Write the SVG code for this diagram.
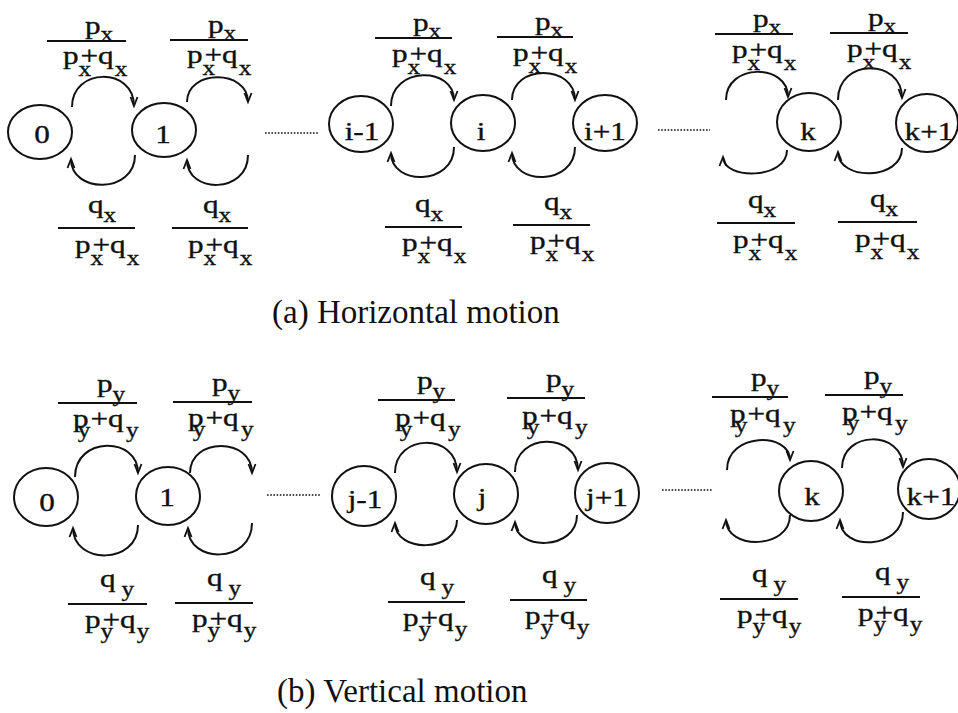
<svg xmlns="http://www.w3.org/2000/svg" width="958" height="713" viewBox="0 0 958 713">
<defs>
<style>
.n ellipse{fill:none;stroke:#111;stroke-width:2}
.t{font-family:"Liberation Serif","Times New Roman",serif;font-size:26px;fill:#111;stroke:#111;stroke-width:0.35}
.m{text-anchor:middle}
.s{font-size:21px}
.cap{font-family:"Liberation Serif","Times New Roman",serif;font-size:33px;fill:#111}
.c path{fill:none;stroke:#111;stroke-width:2;marker-end:url(#ah)}
.bar{stroke:#111;stroke-width:2}
.dot{stroke:#111;stroke-width:1.6;stroke-dasharray:1.6 1.6}
</style>
<marker id="ah" markerUnits="userSpaceOnUse" orient="auto" refX="0" refY="0" markerWidth="14" markerHeight="14" viewBox="-12 -6 14 12" overflow="visible">
<path d="M-9,-3.5 L0,0 L-9,3.5" fill="none" stroke="#111" stroke-width="1.8"/>
</marker>
</defs>
<rect width="958" height="713" fill="#fff"/>

<!-- (a) nodes -->
<g id="a0" class="n"><ellipse cx="40" cy="132" rx="32" ry="27"/><text class="t m" transform="translate(42,143) scale(1.2,1)">0</text></g>
<g id="a1" class="n"><ellipse cx="164" cy="130" rx="32" ry="27"/><text class="t m" transform="translate(163,143) scale(1.2,1)">1</text></g>
<g id="ai-1" class="n"><ellipse cx="361" cy="124" rx="32" ry="28"/><text class="t m" transform="translate(362,140) scale(1.2,1)">i-1</text></g>
<g id="ai" class="n"><ellipse cx="483" cy="123" rx="32" ry="28"/><text class="t m" transform="translate(481,140) scale(1.2,1)">i</text></g>
<g id="ai+1" class="n"><ellipse cx="605" cy="123" rx="32" ry="28"/><text class="t m" transform="translate(605,140) scale(1.2,1)">i+1</text></g>
<g id="ak" class="n"><ellipse cx="809" cy="122" rx="32" ry="29"/><text class="t m" transform="translate(808,140) scale(1.2,1)">k</text></g>
<g id="ak+1" class="n"><ellipse cx="927" cy="123" rx="31" ry="29"/><text class="t m" transform="translate(929,140) scale(1.2,1)">k+1</text></g>

<!-- (b) nodes -->
<g id="b0" class="n"><ellipse cx="46" cy="497" rx="32" ry="29"/><text class="t m" transform="translate(47,511) scale(1.2,1)">0</text></g>
<g id="b1" class="n"><ellipse cx="168" cy="496" rx="32" ry="29"/><text class="t m" transform="translate(167,506) scale(1.2,1)">1</text></g>
<g id="bj-1" class="n"><ellipse cx="364" cy="496" rx="32" ry="30"/><text class="t m" transform="translate(365,508) scale(1.2,1)">j-1</text></g>
<g id="bj" class="n"><ellipse cx="486" cy="494" rx="32" ry="30"/><text class="t m" transform="translate(482,506) scale(1.2,1)">j</text></g>
<g id="bj+1" class="n"><ellipse cx="607" cy="493" rx="32" ry="30"/><text class="t m" transform="translate(607,506) scale(1.2,1)">j+1</text></g>
<g id="bk" class="n"><ellipse cx="811" cy="491" rx="32" ry="30"/><text class="t m" transform="translate(812,505) scale(1.2,1)">k</text></g>
<g id="bk+1" class="n"><ellipse cx="929" cy="489" rx="31" ry="30"/><text class="t m" transform="translate(931,505) scale(1.2,1)">k+1</text></g>

<!-- connectors -->
<g id="connectors" class="c">
<path d="M72,107 C72,67 134,67 134,106"/>
<path d="M135,155 C135,194 71,194 71,159"/>
<path d="M187,102 C187,69 248,69 248,102"/>
<path d="M248,155 C248,194 187,194 187,160"/>
<path d="M391,106 C391,66 454,66 454,100"/>
<path d="M454,147 C454,186 391,186 391,153"/>
<path d="M512,100 C512,64 575,64 575,100"/>
<path d="M575,147 C575,186 512,186 512,153"/>
<path d="M726,100 C726,63 788,63 788,97"/>
<path d="M787,150 C787,180 723,180 723,157"/>
<path d="M838,100 C838,58 902,58 902,98"/>
<path d="M902,148 C902,181 838,181 838,152"/>

<path d="M75,477 C75,436 138,436 138,473"/>
<path d="M138,525 C138,565 73,565 73,528"/>
<path d="M190,473 C190,437 252,437 252,473"/>
<path d="M252,523 C252,564 188,564 188,528"/>
<path d="M395,473 C395,433 457,433 457,472"/>
<path d="M457,520 C457,553 395,553 395,523"/>
<path d="M515,472 C515,432 578,432 578,470"/>
<path d="M577,515 C577,551 515,551 515,522"/>
<path d="M727,470 C727,432 790,432 790,460"/>
<path d="M790,515 C790,550 726,550 726,520"/>
<path d="M842,468 C842,430 903,430 903,467"/>
<path d="M903,512 C903,551 840,551 840,520"/>

<line class="dot" x1="265" y1="133" x2="318" y2="133"/>
<line class="dot" x1="658" y1="130" x2="710" y2="130"/>
<line class="dot" x1="267" y1="495" x2="320" y2="495"/>
<line class="dot" x1="662" y1="490" x2="713" y2="490"/>
</g>

<!-- (a) top fractions -->
<g id="fa-t1" transform="translate(47,41)"><line class="bar" x1="0" y1="0" x2="79" y2="0"/><text class="t" transform="translate(38,-7) scale(1.2,1)">p<tspan class="s" dy="7">x</tspan></text><text class="t" transform="translate(16,23) scale(1.2,1)">p<tspan class="s" dy="12">x</tspan><tspan dx="-9" dy="-12">+</tspan>q<tspan class="s" dx="1" dy="12">x</tspan></text></g>
<g id="fa-t2" transform="translate(170,40)"><line class="bar" x1="0" y1="0" x2="78" y2="0"/><text class="t" transform="translate(38,-7) scale(1.2,1)">p<tspan class="s" dy="7">x</tspan></text><text class="t" transform="translate(17,23) scale(1.2,1)">p<tspan class="s" dy="12">x</tspan><tspan dx="-9" dy="-12">+</tspan>q<tspan class="s" dx="1" dy="12">x</tspan></text></g>
<g id="fa-t3" transform="translate(375,38)"><line class="bar" x1="0" y1="0" x2="77" y2="0"/><text class="t" transform="translate(38,-7) scale(1.2,1)">p<tspan class="s" dy="7">x</tspan></text><text class="t" transform="translate(17,24) scale(1.2,1)">p<tspan class="s" dy="12">x</tspan><tspan dx="-9" dy="-12">+</tspan>q<tspan class="s" dx="1" dy="12">x</tspan></text></g>
<g id="fa-t4" transform="translate(497,37)"><line class="bar" x1="0" y1="0" x2="76" y2="0"/><text class="t" transform="translate(38,-7) scale(1.2,1)">p<tspan class="s" dy="7">x</tspan></text><text class="t" transform="translate(16,24) scale(1.2,1)">p<tspan class="s" dy="12">x</tspan><tspan dx="-9" dy="-12">+</tspan>q<tspan class="s" dx="1" dy="12">x</tspan></text></g>
<g id="fa-t5" transform="translate(715,34)"><line class="bar" x1="0" y1="0" x2="78" y2="0"/><text class="t" transform="translate(38,-7) scale(1.2,1)">p<tspan class="s" dy="7">x</tspan></text><text class="t" transform="translate(17,24) scale(1.2,1)">p<tspan class="s" dy="12">x</tspan><tspan dx="-9" dy="-12">+</tspan>q<tspan class="s" dx="1" dy="12">x</tspan></text></g>
<g id="fa-t6" transform="translate(830,33)"><line class="bar" x1="0" y1="0" x2="78" y2="0"/><text class="t" transform="translate(38,-7) scale(1.2,1)">p<tspan class="s" dy="7">x</tspan></text><text class="t" transform="translate(17,24) scale(1.2,1)">p<tspan class="s" dy="12">x</tspan><tspan dx="-9" dy="-12">+</tspan>q<tspan class="s" dx="1" dy="12">x</tspan></text></g>

<!-- (a) bottom fractions -->
<g id="fa-b1" transform="translate(58,228)"><line class="bar" x1="0" y1="0" x2="77" y2="0"/><text class="t" transform="translate(30,-15) scale(1.2,1)">q<tspan class="s" dy="9">x</tspan></text><text class="t" transform="translate(17,25) scale(1.2,1)">p<tspan class="s" dy="12">x</tspan><tspan dx="-9" dy="-12">+</tspan>q<tspan class="s" dx="1" dy="12">x</tspan></text></g>
<g id="fa-b2" transform="translate(172,228)"><line class="bar" x1="0" y1="0" x2="76" y2="0"/><text class="t" transform="translate(31,-15) scale(1.2,1)">q<tspan class="s" dy="9">x</tspan></text><text class="t" transform="translate(16,25) scale(1.2,1)">p<tspan class="s" dy="12">x</tspan><tspan dx="-9" dy="-12">+</tspan>q<tspan class="s" dx="1" dy="12">x</tspan></text></g>
<g id="fa-b3" transform="translate(385,227)"><line class="bar" x1="0" y1="0" x2="77" y2="0"/><text class="t" transform="translate(30,-15) scale(1.2,1)">q<tspan class="s" dy="9">x</tspan></text><text class="t" transform="translate(17,24) scale(1.2,1)">p<tspan class="s" dy="12">x</tspan><tspan dx="-9" dy="-12">+</tspan>q<tspan class="s" dx="1" dy="12">x</tspan></text></g>
<g id="fa-b4" transform="translate(513,225)"><line class="bar" x1="0" y1="0" x2="77" y2="0"/><text class="t" transform="translate(31,-15) scale(1.2,1)">q<tspan class="s" dy="9">x</tspan></text><text class="t" transform="translate(17,24) scale(1.2,1)">p<tspan class="s" dy="12">x</tspan><tspan dx="-9" dy="-12">+</tspan>q<tspan class="s" dx="1" dy="12">x</tspan></text></g>
<g id="fa-b5" transform="translate(717,223)"><line class="bar" x1="0" y1="0" x2="78" y2="0"/><text class="t" transform="translate(31,-15) scale(1.2,1)">q<tspan class="s" dy="9">x</tspan></text><text class="t" transform="translate(16,25) scale(1.2,1)">p<tspan class="s" dy="12">x</tspan><tspan dx="-9" dy="-12">+</tspan>q<tspan class="s" dx="1" dy="12">x</tspan></text></g>
<g id="fa-b6" transform="translate(838,222)"><line class="bar" x1="0" y1="0" x2="79" y2="0"/><text class="t" transform="translate(32,-15) scale(1.2,1)">q<tspan class="s" dy="9">x</tspan></text><text class="t" transform="translate(17,25) scale(1.2,1)">p<tspan class="s" dy="12">x</tspan><tspan dx="-9" dy="-12">+</tspan>q<tspan class="s" dx="1" dy="12">x</tspan></text></g>

<text class="cap" x="272" y="323">(a) Horizontal motion</text>

<!-- (b) top fractions -->
<g id="fb-t1" transform="translate(58,403)"><line class="bar" x1="0" y1="0" x2="79" y2="0"/><text class="t" transform="translate(39,-11) scale(1.2,1)">p<tspan class="s" dy="9">y</tspan></text><text class="t" transform="translate(15,24) scale(1.2,1)">p<tspan class="s" dx="-9" dy="10">y</tspan><tspan dy="-10">+</tspan>q<tspan class="s" dx="2" dy="10">y</tspan></text></g>
<g id="fb-t2" transform="translate(173,402)"><line class="bar" x1="0" y1="0" x2="79" y2="0"/><text class="t" transform="translate(39,-11) scale(1.2,1)">p<tspan class="s" dy="9">y</tspan></text><text class="t" transform="translate(15,24) scale(1.2,1)">p<tspan class="s" dx="-9" dy="10">y</tspan><tspan dy="-10">+</tspan>q<tspan class="s" dx="2" dy="10">y</tspan></text></g>
<g id="fb-t3" transform="translate(378,400)"><line class="bar" x1="0" y1="0" x2="77" y2="0"/><text class="t" transform="translate(39,-11) scale(1.2,1)">p<tspan class="s" dy="9">y</tspan></text><text class="t" transform="translate(17,26) scale(1.2,1)">p<tspan class="s" dx="-9" dy="10">y</tspan><tspan dy="-10">+</tspan>q<tspan class="s" dx="2" dy="10">y</tspan></text></g>
<g id="fb-t4" transform="translate(507,398)"><line class="bar" x1="0" y1="0" x2="78" y2="0"/><text class="t" transform="translate(39,-11) scale(1.2,1)">p<tspan class="s" dy="9">y</tspan></text><text class="t" transform="translate(15,26) scale(1.2,1)">p<tspan class="s" dx="-9" dy="10">y</tspan><tspan dy="-10">+</tspan>q<tspan class="s" dx="2" dy="10">y</tspan></text></g>
<g id="fb-t5" transform="translate(712,397)"><line class="bar" x1="0" y1="0" x2="76" y2="0"/><text class="t" transform="translate(39,-11) scale(1.2,1)">p<tspan class="s" dy="9">y</tspan></text><text class="t" transform="translate(18,25) scale(1.2,1)">p<tspan class="s" dx="-9" dy="10">y</tspan><tspan dy="-10">+</tspan>q<tspan class="s" dx="2" dy="10">y</tspan></text></g>
<g id="fb-t6" transform="translate(825,395)"><line class="bar" x1="0" y1="0" x2="78" y2="0"/><text class="t" transform="translate(39,-11) scale(1.2,1)">p<tspan class="s" dy="9">y</tspan></text><text class="t" transform="translate(17,25) scale(1.2,1)">p<tspan class="s" dx="-9" dy="10">y</tspan><tspan dy="-10">+</tspan>q<tspan class="s" dx="2" dy="10">y</tspan></text></g>

<!-- (b) bottom fractions -->
<g id="fb-b1" transform="translate(68,604)"><line class="bar" x1="0" y1="0" x2="79" y2="0"/><text class="t" transform="translate(32,-17) scale(1.2,1)">q<tspan class="s" dx="5" dy="9">y</tspan></text><text class="t" transform="translate(17,24) scale(1.2,1)">p<tspan class="s" dy="10">y</tspan><tspan dx="-9" dy="-10">+</tspan>q<tspan class="s" dx="1" dy="10">y</tspan></text></g>
<g id="fb-b2" transform="translate(175,603)"><line class="bar" x1="0" y1="0" x2="78" y2="0"/><text class="t" transform="translate(32,-17) scale(1.2,1)">q<tspan class="s" dx="5" dy="9">y</tspan></text><text class="t" transform="translate(17,24) scale(1.2,1)">p<tspan class="s" dy="10">y</tspan><tspan dx="-9" dy="-10">+</tspan>q<tspan class="s" dx="1" dy="10">y</tspan></text></g>
<g id="fb-b3" transform="translate(388,602)"><line class="bar" x1="0" y1="0" x2="77" y2="0"/><text class="t" transform="translate(32,-17) scale(1.2,1)">q<tspan class="s" dx="5" dy="9">y</tspan></text><text class="t" transform="translate(15,24) scale(1.2,1)">p<tspan class="s" dy="10">y</tspan><tspan dx="-9" dy="-10">+</tspan>q<tspan class="s" dx="1" dy="10">y</tspan></text></g>
<g id="fb-b4" transform="translate(510,600)"><line class="bar" x1="0" y1="0" x2="77" y2="0"/><text class="t" transform="translate(32,-17) scale(1.2,1)">q<tspan class="s" dx="5" dy="9">y</tspan></text><text class="t" transform="translate(15,24) scale(1.2,1)">p<tspan class="s" dy="10">y</tspan><tspan dx="-9" dy="-10">+</tspan>q<tspan class="s" dx="1" dy="10">y</tspan></text></g>
<g id="fb-b5" transform="translate(720,599)"><line class="bar" x1="0" y1="0" x2="78" y2="0"/><text class="t" transform="translate(32,-17) scale(1.2,1)">q<tspan class="s" dx="5" dy="9">y</tspan></text><text class="t" transform="translate(17,24) scale(1.2,1)">p<tspan class="s" dy="10">y</tspan><tspan dx="-9" dy="-10">+</tspan>q<tspan class="s" dx="1" dy="10">y</tspan></text></g>
<g id="fb-b6" transform="translate(842,597)"><line class="bar" x1="0" y1="0" x2="78" y2="0"/><text class="t" transform="translate(33,-17) scale(1.2,1)">q<tspan class="s" dx="5" dy="9">y</tspan></text><text class="t" transform="translate(16,24) scale(1.2,1)">p<tspan class="s" dy="10">y</tspan><tspan dx="-9" dy="-10">+</tspan>q<tspan class="s" dx="1" dy="10">y</tspan></text></g>

<text class="cap" x="277" y="702">(b) Vertical motion</text>
</svg>
